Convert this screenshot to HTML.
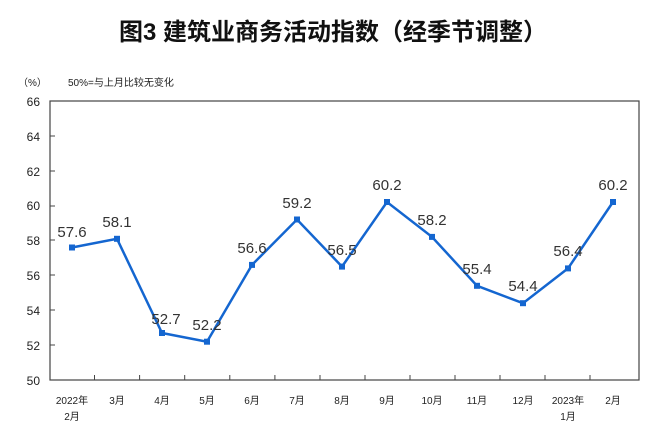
<!DOCTYPE html>
<html><head><meta charset="utf-8"><style>
body{margin:0;background:#fff;}
svg text{font-family:"Liberation Sans","Noto Sans CJK SC",sans-serif;}
</style></head><body>
<svg width="667" height="436" viewBox="0 0 667 436" xmlns="http://www.w3.org/2000/svg">
<text x="333" y="40" text-anchor="middle" font-size="24" font-weight="bold" fill="#111">图3  建筑业商务活动指数（经季节调整）</text>
<text x="18" y="86" font-size="10" fill="#222">（%）</text>
<text x="68" y="86" font-size="10" fill="#222">50%=与上月比较无变化</text>
<g font-size="12" fill="#222" text-anchor="end">
<text x="40" y="106">66</text><text x="40" y="141">64</text><text x="40" y="176">62</text><text x="40" y="210">60</text><text x="40" y="245">58</text><text x="40" y="280">56</text><text x="40" y="315">54</text><text x="40" y="350">52</text><text x="40" y="385">50</text>
</g>
<rect x="50" y="101" width="589" height="279" fill="none" stroke="#444" stroke-width="1.2"/>
<g stroke="#444" stroke-width="1">
<path d="M50 136h5M50 171h5M50 206h5M50 240h5M50 275h5M50 310h5M50 345h5"/>
<path d="M94.5 380v-5M139.6 380v-5M184.7 380v-5M229.8 380v-5M274.9 380v-5M320 380v-5M365 380v-5M410 380v-5M455 380v-5M500 380v-5M545 380v-5M590 380v-5"/>
</g>
<g font-size="10" fill="#222" text-anchor="middle">
<text x="72" y="404">2022年</text><text x="72" y="420">2月</text>
<text x="117" y="404">3月</text><text x="162" y="404">4月</text><text x="207" y="404">5月</text><text x="252" y="404">6月</text><text x="297" y="404">7月</text><text x="342" y="404">8月</text><text x="387" y="404">9月</text><text x="432" y="404">10月</text><text x="477" y="404">11月</text><text x="523" y="404">12月</text>
<text x="568" y="404">2023年</text><text x="568" y="420">1月</text><text x="613" y="404">2月</text>
</g>
<polyline fill="none" stroke="#1466d0" stroke-width="2.5" stroke-linejoin="miter" points="72,247.5 117,238.8 162,333 207,341.7 252,264.9 297,219.5 342,266.6 387,202 432,236.9 477,285.8 523,303.2 568,268.4 613,202"/>
<g fill="#1466d0">
<rect x="69" y="244.5" width="6" height="6"/><rect x="114" y="235.8" width="6" height="6"/><rect x="159" y="330" width="6" height="6"/><rect x="204" y="338.7" width="6" height="6"/><rect x="249" y="261.9" width="6" height="6"/><rect x="294" y="216.5" width="6" height="6"/><rect x="339" y="263.6" width="6" height="6"/><rect x="384" y="199" width="6" height="6"/><rect x="429" y="233.9" width="6" height="6"/><rect x="474" y="282.8" width="6" height="6"/><rect x="520" y="300.2" width="6" height="6"/><rect x="565" y="265.4" width="6" height="6"/><rect x="610" y="199" width="6" height="6"/>
</g>
<g font-size="15" fill="#333" text-anchor="middle">
<text x="72" y="237">57.6</text><text x="117" y="227">58.1</text><text x="166" y="324">52.7</text><text x="207" y="330">52.2</text><text x="252" y="253">56.6</text><text x="297" y="208">59.2</text><text x="342" y="255">56.5</text><text x="387" y="190">60.2</text><text x="432" y="225">58.2</text><text x="477" y="274">55.4</text><text x="523" y="291">54.4</text><text x="568" y="256">56.4</text><text x="613" y="190">60.2</text>
</g>
</svg>
</body></html>
